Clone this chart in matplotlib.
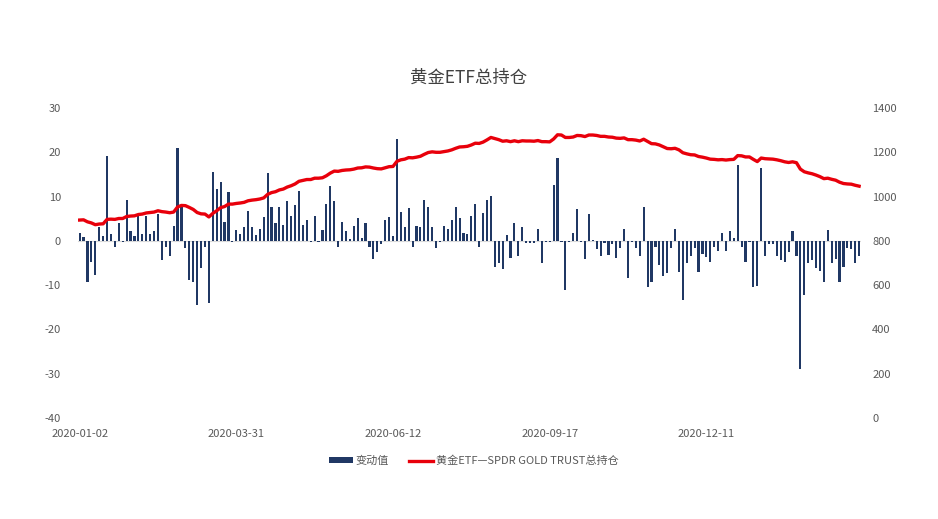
import matplotlib
matplotlib.use("Agg")
import matplotlib.pyplot as plt
import numpy as np
from matplotlib.patches import Patch
from matplotlib.lines import Line2D

plt.rcParams["font.family"] = ["Noto Sans CJK SC", "DejaVu Sans"]
plt.rcParams["axes.unicode_minus"] = False

NAVY = "#203864"
RED = "#E8000B"
GREY = "#595959"

# 变动值 (左轴)
change = [
    1.8, 0.8, -9.3, -4.7, -7.7, 3.2, 1.1, 19.2, 1.6, -1.3,
    4.1, -0.3, 9.2, 2.3, 1.1, 5.6, 1.6, 5.6, 1.6, 2.3,
    6.1, -4.4, -1.4, -3.4, 3.4, 21.0, 7.6, -1.7, -8.8, -9.2,
    -14.4, -6.2, -1.4, -14.1, 15.5, 11.7, 13.2, 4.3, 11.1, -0.3,
    2.5, 1.6, 3.2, 6.8, 3.1, 1.4, 2.7, 5.3, 15.3, 7.7,
    4.1, 7.7, 3.6, 9.0, 5.6, 8.1, 11.3, 3.6, 4.6, -0.3,
    5.6, -0.3, 2.5, 8.3, 12.4, 9.0, -1.4, 4.3, 2.3, 0.5,
    3.4, 5.1, 0.7, 4.1, -1.3, -4.1, -2.6, -0.7, 4.7, 5.3,
    1.1, 22.9, 6.6, 3.2, 7.4, -1.4, 3.4, 3.2, 9.2, 7.7,
    3.2, -1.7, -0.2, 3.4, 2.7, 4.7, 7.7, 5.2, 1.8, 1.6,
    5.6, 8.3, -1.3, 6.3, 9.2, 10.2, -5.8, -5.0, -6.4, 1.4,
    -3.8, 4.1, -3.5, 3.2, -0.4, -0.4, -0.4, 2.7, -5.0, -0.3,
    -0.3, 12.6, 18.7, -0.3, -11.2, -0.3, 1.7, 7.2, -0.3, -4.1,
    6.1, 0.2, -1.9, -3.5, -0.5, -3.1, -0.6, -3.8, -1.7, 2.7,
    -8.4, -0.3, -1.7, -3.5, 7.7, -10.5, -9.2, -1.3, -5.4, -8.0,
    -7.3, -1.7, 2.7, -7.1, -13.4, -5.0, -3.5, -1.7, -7.1, -3.0,
    -3.7, -4.7, -1.3, -2.4, 1.7, -2.4, 2.3, 0.6, 17.1, -1.3,
    -4.7, -0.3, -10.5, -10.3, 16.4, -3.5, -0.6, -0.6, -3.4, -4.4,
    -4.7, -2.6, 2.3, -3.4, -28.9, -12.3, -5.0, -4.3, -6.2, -6.7,
    -9.2, 2.5, -4.9, -4.1, -9.2, -5.8, -1.7, -1.9, -5.0, -3.4,
]

# 黄金ETF—SPDR GOLD TRUST总持仓 (右轴)
holding = [
    894, 895, 886, 881, 873, 876, 877, 897, 898, 897,
    901, 901, 910, 912, 913, 919, 921, 926, 928, 930,
    936, 932, 930, 927, 930, 953, 960, 959, 951, 942,
    928, 922, 921, 908, 924, 936, 950, 955, 966, 966,
    969, 971, 974, 981, 984, 986, 989, 994, 1010, 1018,
    1022, 1030, 1034, 1043, 1049, 1057, 1069, 1073, 1077, 1077,
    1083, 1083, 1085, 1094, 1106, 1115, 1114, 1118, 1120, 1121,
    1124, 1129, 1130, 1134, 1133, 1129, 1126, 1125, 1130, 1135,
    1136, 1159, 1166, 1169, 1176, 1175, 1178, 1182, 1191, 1199,
    1202, 1200, 1200, 1203, 1206, 1211, 1218, 1224, 1225, 1227,
    1233, 1241, 1240, 1246, 1256, 1267, 1262, 1257, 1250, 1252,
    1248, 1252, 1248, 1252, 1251, 1251, 1250, 1253, 1248, 1248,
    1247, 1260, 1279, 1278, 1267, 1267, 1269, 1276, 1275, 1271,
    1278, 1278, 1276, 1272, 1272, 1269, 1268, 1264, 1263, 1265,
    1257, 1257, 1255, 1251, 1259, 1249, 1239, 1238, 1233, 1225,
    1217, 1216, 1218, 1211, 1198, 1193, 1189, 1188, 1181, 1178,
    1174, 1169, 1168, 1166, 1167, 1165, 1167, 1168, 1185, 1184,
    1179, 1179, 1168, 1158, 1174, 1171, 1170, 1169, 1166, 1162,
    1157, 1154, 1157, 1153, 1124, 1112, 1107, 1103, 1097, 1090,
    1081, 1083, 1078, 1074, 1065, 1059, 1057, 1056, 1051, 1047,
]

tick_pos = [0, 40, 80, 120, 160]
tick_labels = ["2020-01-02", "2020-03-31", "2020-06-12", "2020-09-17", "2020-12-11"]

fig = plt.figure(figsize=(9.38, 5.19), dpi=100)
ax = fig.add_axes([0.0828, 0.1946, 0.8352, 0.5973])
ax2 = ax.twinx()

x = np.arange(len(change))
ax.axhline(0, color="#D9D9D9", linewidth=0.8, zorder=1)
ax.bar(x, change, width=0.55, color=NAVY, zorder=2)
ax2.plot(x, holding, color=RED, linewidth=2.4, zorder=3)

ax.set_xlim(-0.5, len(change) - 0.5)
ax.set_ylim(-40, 30)
ax.set_yticks(range(-40, 31, 10))
ax2.set_ylim(0, 1400)
ax2.set_yticks(range(0, 1401, 200))
ax.set_xticks(tick_pos)
ax.set_xticklabels(tick_labels)

for a in (ax, ax2):
    for s in a.spines.values():
        s.set_visible(False)
    a.tick_params(length=0, labelsize=8, labelcolor=GREY)
ax.tick_params(axis="y", pad=12)
ax2.tick_params(axis="y", pad=8)
ax.tick_params(axis="x", pad=8)

fig.text(0.5, 0.85, "黄金ETF总持仓", ha="center", va="center",
         fontsize=12.5, color="#404040")

handles = [Patch(facecolor=NAVY, edgecolor="none"),
           Line2D([0], [0], color=RED, linewidth=2.4)]
fig.legend(handles, ["变动值", "黄金ETF—SPDR GOLD TRUST总持仓"],
           loc="center", bbox_to_anchor=(0.505, 0.112), ncol=2, frameon=False,
           fontsize=8, labelcolor=GREY, handlelength=2.2, handleheight=0.5,
           handletextpad=0.2, columnspacing=1.8)

fig.savefig("out.png", dpi=100, facecolor="white")
